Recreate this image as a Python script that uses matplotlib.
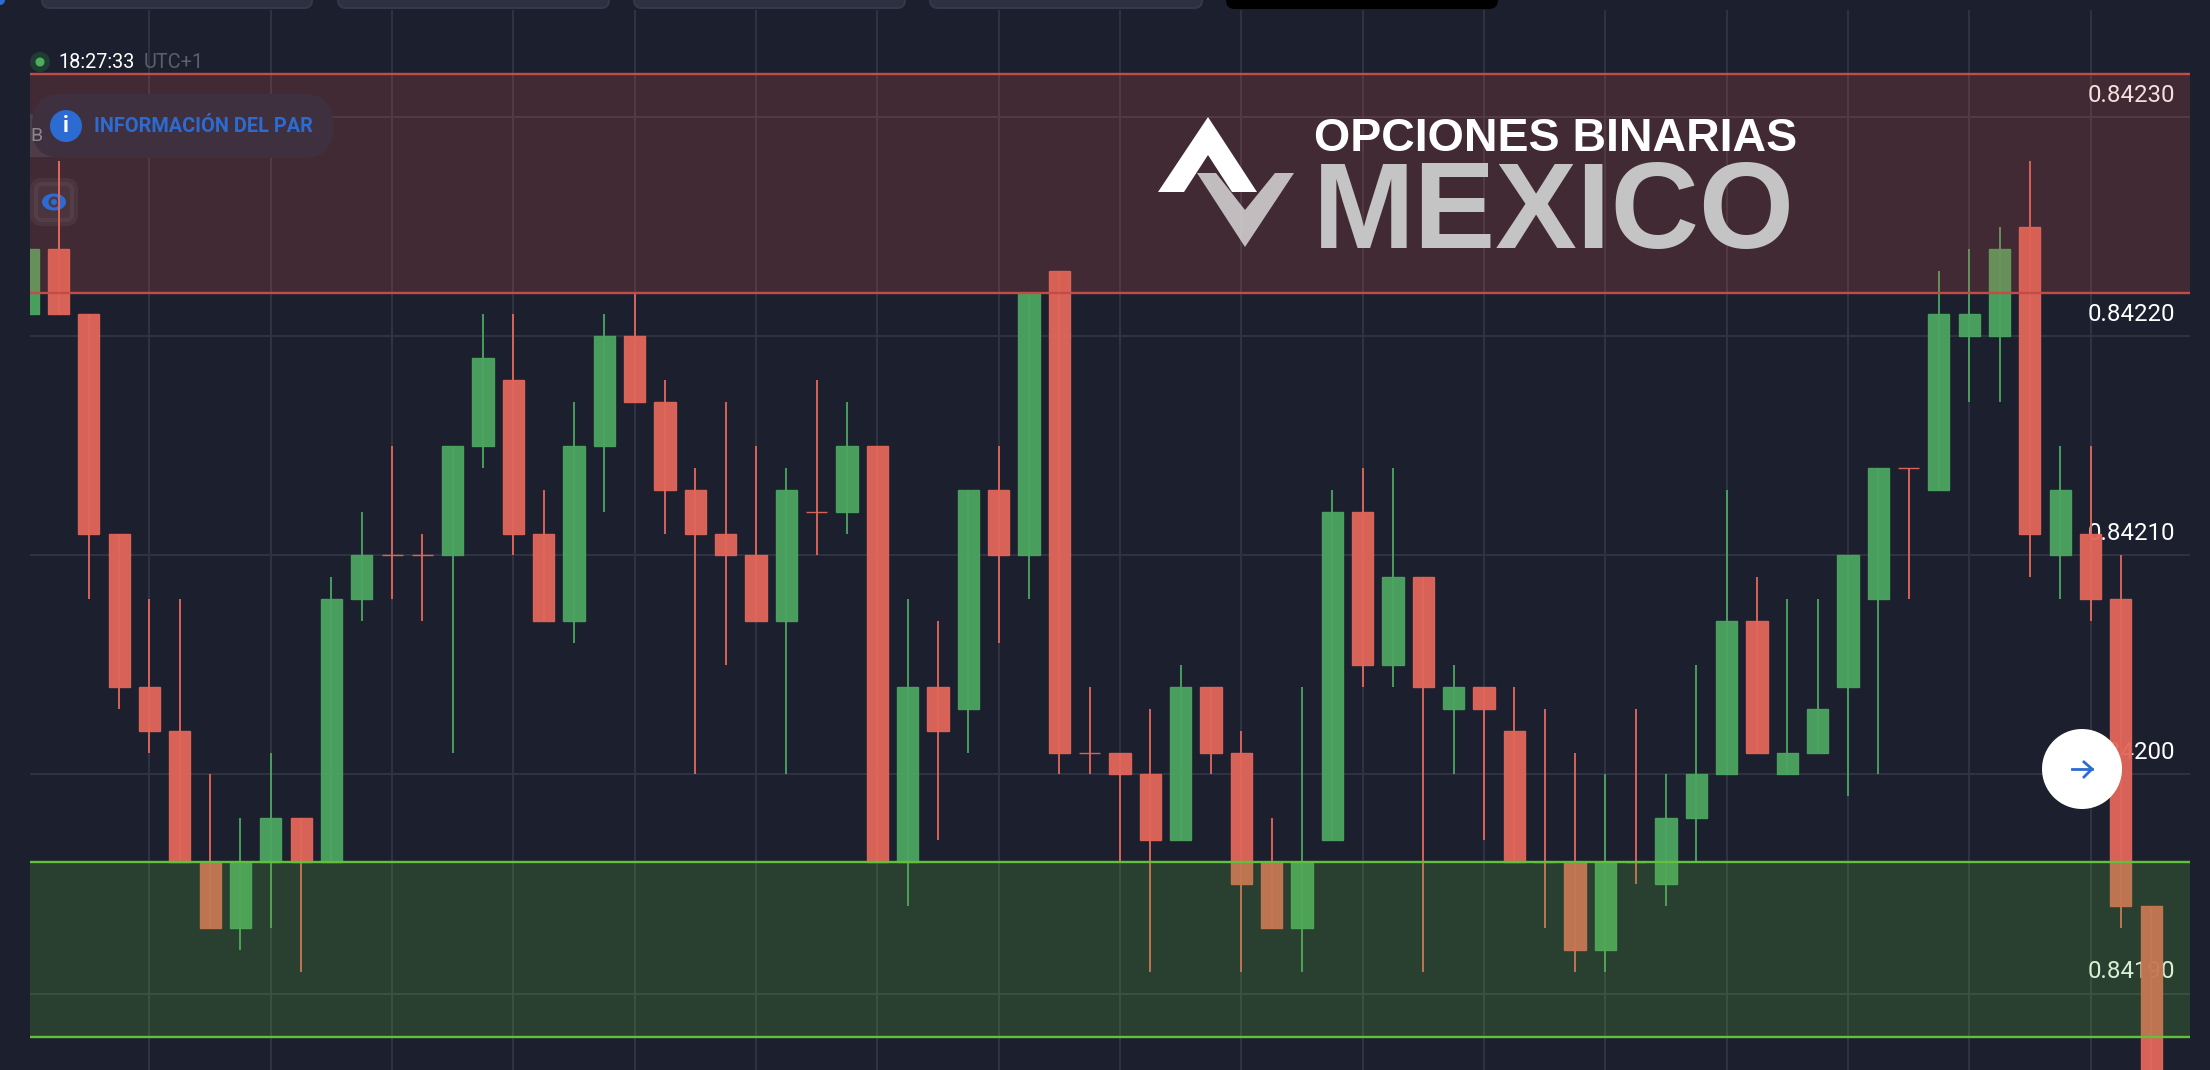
import matplotlib
matplotlib.use('Agg')
import matplotlib.pyplot as plt
from matplotlib.patches import Circle, Ellipse, FancyBboxPatch, Polygon

# Prix en points (84224 = 0.84224)
open_pts = [84221, 84224, 84221, 84211, 84204, 84202, 84196, 84193, 84196, 84198, 84196, 84208,
            84210, 84210, 84210, 84215, 84218, 84211, 84207, 84215, 84220, 84217, 84213, 84211,
            84210, 84207, 84212, 84212, 84215, 84196, 84204, 84203, 84213, 84210, 84223, 84201,
            84201, 84200, 84197, 84204, 84201, 84196, 84193, 84197, 84212, 84205, 84209, 84203,
            84204, 84202, 84196, 84196, 84192, 84196, 84195, 84198, 84200, 84207, 84200, 84201,
            84204, 84208, 84214, 84213, 84220, 84220, 84225, 84210, 84211, 84208, 84194]
close_pts = [84224, 84221, 84211, 84204, 84202, 84196, 84193, 84196, 84198, 84196, 84208, 84210,
             84210, 84210, 84215, 84219, 84211, 84207, 84215, 84220, 84217, 84213, 84211, 84210,
             84207, 84213, 84212, 84215, 84196, 84204, 84202, 84213, 84210, 84222, 84201, 84201,
             84200, 84197, 84204, 84201, 84195, 84193, 84196, 84212, 84205, 84209, 84204, 84204,
             84203, 84196, 84196, 84192, 84196, 84196, 84198, 84200, 84207, 84201, 84201, 84203,
             84210, 84214, 84214, 84221, 84221, 84224, 84211, 84213, 84208, 84194, 84185]
high_pts = [84224, 84228, 84221, 84211, 84208, 84208, 84200, 84198, 84201, 84198, 84209, 84212,
            84215, 84211, 84215, 84221, 84221, 84213, 84217, 84221, 84222, 84218, 84214, 84217,
            84215, 84214, 84218, 84217, 84215, 84208, 84207, 84213, 84215, 84222, 84223, 84204,
            84201, 84203, 84205, 84204, 84202, 84198, 84204, 84213, 84214, 84214, 84209, 84205,
            84204, 84204, 84203, 84201, 84200, 84203, 84200, 84205, 84213, 84209, 84208, 84208,
            84210, 84214, 84214, 84223, 84224, 84225, 84228, 84215, 84215, 84210, 84194]
low_pts = [84221, 84221, 84208, 84203, 84201, 84196, 84193, 84192, 84193, 84191, 84196, 84207,
           84208, 84207, 84201, 84214, 84210, 84207, 84206, 84212, 84217, 84211, 84200, 84205,
           84207, 84200, 84210, 84211, 84196, 84194, 84197, 84201, 84206, 84208, 84200, 84200,
           84196, 84191, 84197, 84200, 84191, 84193, 84191, 84197, 84204, 84204, 84191, 84200,
           84197, 84196, 84193, 84191, 84191, 84195, 84194, 84196, 84200, 84201, 84200, 84201,
           84199, 84200, 84208, 84213, 84217, 84217, 84209, 84208, 84207, 84193, 84185]

price_ticks = [84190, 84200, 84210, 84220, 84230]
price_labels = ['0.84190', '0.84200', '0.84210', '0.84220', '0.84230']
time_ticks = [4, 8, 12, 16, 20, 24, 28, 32, 36, 40, 44, 48, 52, 56, 60, 64, 68]

# Zones de support et de résistance
resist_zone = [84222, 84232]
support_zone = [84188, 84196]

BG = '#1b1f2e'
GRID = '#2f3341'
RED = '#e2665a'
GREEN = '#4ca560'
BLUE = '#2c6bd2'

plt.rcParams['font.family'] = ['Roboto', 'DejaVu Sans']

fig = plt.figure(figsize=(22.1, 10.7), dpi=100, facecolor=BG)

ax = fig.add_axes([30 / 2210, 0, 2160 / 2210, 1060 / 1070], facecolor=BG, zorder=1)
ui = fig.add_axes([0, 0, 1, 1], zorder=2)
ui.axis('off')

ax.set_xlim(0.06, 71.28)
ax.set_ylim(84186.51, 84234.9)
for s in ax.spines.values():
    s.set_visible(False)
ax.set_xticks(time_ticks)
ax.set_yticks(price_ticks)
ax.tick_params(length=0, labelbottom=False, labelleft=False)
ax.grid(True, color=GRID, lw=1.5, zorder=1)
ax.set_axisbelow(True)

# Prix à droite, sous les bougies
for p, lab in zip(price_ticks, price_labels):
    ax.annotate(lab, xy=(1, p), xycoords=('axes fraction', 'data'), xytext=(-15, 22),
                textcoords='offset pixels', ha='right', va='center', fontsize=17.3, color='white', zorder=2)

# Bougies
for i in range(len(open_pts)):
    c = RED if close_pts[i] <= open_pts[i] else GREEN
    ax.vlines(i, low_pts[i], high_pts[i], color=c, lw=1.4, alpha=0.95, zorder=3)
    ax.bar(i, close_pts[i] - open_pts[i], bottom=open_pts[i], width=0.7, color=c, edgecolor=c,
           lw=1, alpha=0.95, zorder=3.1)

# Zones par-dessus les bougies
ax.axhspan(resist_zone[0], resist_zone[1], color='#dc5a50', alpha=0.2, lw=0, zorder=4)
ax.axhspan(support_zone[0], support_zone[1], color='#5db83c', alpha=0.22, lw=0, zorder=4)
for v in resist_zone:
    ax.axhline(v, color='#c24c48', lw=1.7, zorder=5)
for v in support_zone:
    ax.axhline(v, color='#62c03a', lw=1.7, zorder=5)

# Bouton oeil, la mèche de la bougie 1 repasse devant
ui.set_xlim(0, 2210)
ui.set_ylim(1070, 0)
ax.add_patch(FancyBboxPatch((34, 182), 40, 40, boxstyle='round,pad=0,rounding_size=8', transform=ui.transData,
                            fc='#ffffff', ec='#ffffff', lw=6, alpha=0.05, zorder=4.2, clip_on=False))
ax.add_patch(Ellipse((54, 202), 24, 17, transform=ui.transData, fc=BLUE, zorder=4.3, clip_on=False))
ax.add_patch(Circle((54, 202), 5.5, transform=ui.transData, fc='#4a3a45', zorder=4.4, clip_on=False))
ax.add_patch(Circle((54, 202), 3, transform=ui.transData, fc=BLUE, zorder=4.5, clip_on=False))
ax.vlines(1, close_pts[0], high_pts[1], color=RED, lw=1.4, zorder=4.6)

# Onglets du haut
for x0, x1, col in [(42, 312, '#2c3040'), (338, 609, '#2c3040'), (634, 905, '#2c3040'),
                    (930, 1202, '#2c3040'), (1227, 1497, '#000000')]:
    ui.add_patch(FancyBboxPatch((x0, -20), x1 - x0, 28, boxstyle='round,pad=0,rounding_size=8',
                                fc=col, ec='#343848' if col != '#000000' else col, lw=1.5))
ui.add_patch(Circle((0, 0), 5, fc=BLUE))

# Horloge
ui.add_patch(Circle((40, 62), 10, fc='#1f3d33'))
ui.add_patch(Circle((40, 62), 4.5, fc='#4caf5c'))
ui.text(58, 63, '18:27:33', color='white', fontsize=14.3, va='center', ha='left')
ui.text(144, 63, 'UTC+1', color='#5d606c', fontsize=14.3, va='center', ha='left')

# Info paire
ui.add_patch(FancyBboxPatch((30, 114), 29, 43, boxstyle='square,pad=0', fc='#54464f', ec='none', alpha=0.7))
ui.text(30, 136, 'B', color='#8d8890', fontsize=14, va='center', ha='left')
ui.add_patch(FancyBboxPatch((32, 94), 301, 64, boxstyle='round,pad=0,rounding_size=30', fc='#3f3040', ec='none'))
ui.add_patch(Circle((66, 126), 16, fc=BLUE))
ui.text(66, 126, 'i', color='white', fontsize=16, fontweight='bold', va='center', ha='center')
ui.text(94, 127, 'INFORMACIÓN DEL PAR', color=BLUE, fontsize=14.3, fontweight='bold', va='center', ha='left')

# Logo
ui.add_patch(Polygon([(1208, 117), (1158, 192), (1184, 192), (1208, 155), (1232, 192), (1257, 192)],
                     closed=True, fc='white', ec='none'))
ui.add_patch(Polygon([(1197, 173), (1245, 247), (1294, 173), (1275, 173), (1245, 210), (1216, 173)],
                     closed=True, fc='#d8d8d8', ec='none', alpha=0.85))
ui.text(1314, 151, 'OPCIONES BINARIAS', color='white', fontsize=33.5, fontweight='bold', va='baseline', ha='left',
        family='Liberation Sans')
ui.text(1313, 248, 'MEXICO', color='#c4c4c4', fontsize=88, fontweight='bold', va='baseline', ha='left',
        family='Liberation Sans')

# Bouton flèche
ui.add_patch(Circle((2082, 769), 40, fc='white', ec='none'))
ui.plot([2072, 2092], [769, 769], color=BLUE, lw=2)
ui.plot([2084, 2092, 2084], [762, 769, 777], color=BLUE, lw=2)
ui.set_xlim(0, 2210)
ui.set_ylim(1070, 0)

plt.savefig('out.png', dpi=100, facecolor=BG)
